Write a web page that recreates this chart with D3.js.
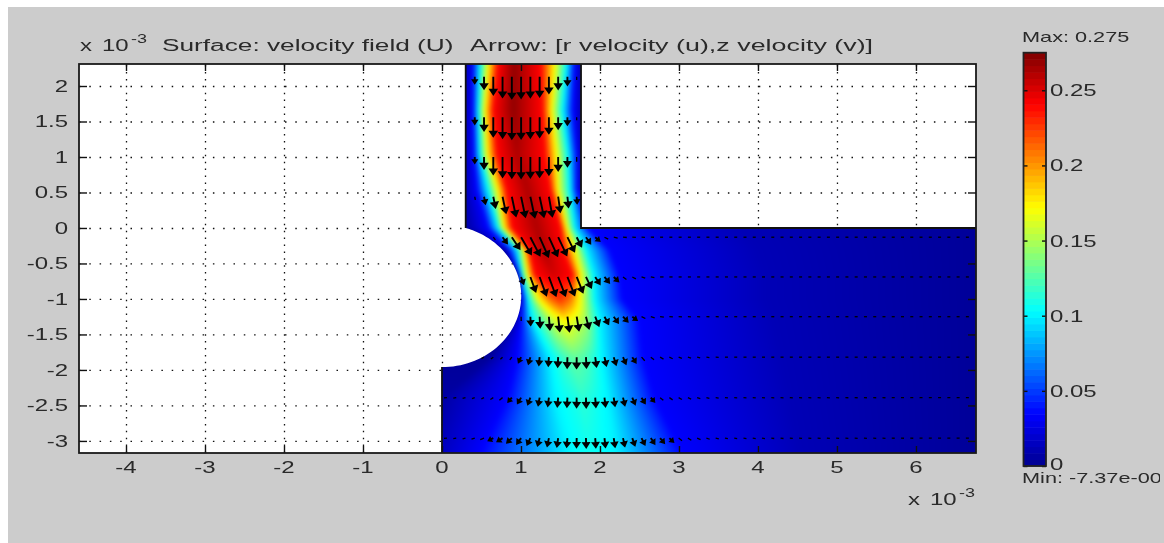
<!DOCTYPE html>
<html lang="en">
<head>
  <meta charset="utf-8" />
  <title>Surface: velocity field (U)</title>
  <style>
    html, body { margin: 0; padding: 0; background: #fff; overflow: hidden; }
    svg { display: block; filter: blur(0.45px); }
    text { font-family: "Liberation Sans", Arial, sans-serif; fill: #2a2a2a; }
  </style>
</head>
<body>
<div id="chart"></div>

<script src="https://d3js.org/d3.v7.min.js"></script>
<script>
  // all lengths in units of 1e-3, as on the axes
  const xTicks = [-4, -3, -2, -1, 0, 1, 2, 3, 4, 5, 6];
  const yTicks = [2, 1.5, 1, 0.5, 0, -0.5, -1, -1.5, -2, -2.5, -3];
  const barTicks = [0, 0.05, 0.1, 0.15, 0.2, 0.25];

  const titleSurface = "Surface: velocity field (U)";
  const titleArrow = "Arrow: [r velocity (u),z velocity (v)]";
  const maxText = "Max: 0.275";
  const minText = "Min: -7.37e-005";
  const uMax = 0.275;

  // speed profiles, one row per height
  const rowY = [2.31, 1.66, 1.03, 0.54, 0, -0.31, -0.66, -1.01, -1.3, -1.82, -2.4, -3.17];
  const rowX = [
    [0.30, 0.39, 0.48, 0.58, 0.71, 0.91, 1.25, 1.43, 1.58, 1.68, 1.76, 1.76],
    [0.30, 0.39, 0.46, 0.54, 0.65, 0.90, 1.27, 1.39, 1.53, 1.66, 1.76, 1.76],
    [0.30, 0.40, 0.48, 0.57, 0.70, 0.95, 1.30, 1.45, 1.60, 1.71, 1.76, 1.76],
    [0.30, 0.44, 0.58, 0.70, 0.82, 1.08, 1.37, 1.47, 1.62, 1.71, 1.76, 1.76],
    [0.28, 0.58, 0.71, 0.78, 0.89, 1.20, 1.50, 1.58, 1.68, 1.85, 3.80, 6.76],
    [0.80, 0.84, 0.96, 1.03, 1.11, 1.28, 1.53, 1.68, 1.83, 2.13, 4.00, 6.76],
    [0.96, 0.98, 1.01, 1.08, 1.18, 1.41, 1.65, 1.76, 1.92, 2.25, 4.10, 6.76],
    [0.98, 1.02, 1.09, 1.22, 1.37, 1.49, 1.62, 1.75, 1.94, 2.29, 4.10, 6.76],
    [0.92, 1.00, 1.14, 1.42, 1.48, 1.55, 1.65, 1.80, 2.00, 2.50, 4.20, 6.76],
    [0.60, 0.95, 1.37, 1.50, 1.60, 1.68, 1.80, 1.90, 2.03, 2.55, 4.30, 6.76],
    [0.00, 0.82, 1.43, 1.55, 1.70, 1.78, 1.90, 2.00, 2.10, 2.70, 4.40, 6.76],
    [0.00, 0.48, 1.60, 1.70, 1.80, 1.85, 1.95, 2.05, 2.20, 3.05, 4.53, 6.76]
  ];
  const rowU = [
    [0.012, 0.034, 0.10, 0.17, 0.24, 0.270, 0.24, 0.17, 0.10, 0.034, 0.012, 0.012],
    [0.012, 0.034, 0.10, 0.17, 0.24, 0.270, 0.24, 0.17, 0.10, 0.034, 0.012, 0.012],
    [0.012, 0.034, 0.10, 0.17, 0.24, 0.262, 0.24, 0.17, 0.10, 0.034, 0.012, 0.012],
    [0.012, 0.034, 0.10, 0.17, 0.24, 0.262, 0.24, 0.17, 0.10, 0.034, 0.012, 0.012],
    [0.004, 0.034, 0.10, 0.17, 0.24, 0.262, 0.24, 0.17, 0.10, 0.034, 0.012, 0.003],
    [0.004, 0.034, 0.10, 0.17, 0.24, 0.262, 0.24, 0.17, 0.10, 0.034, 0.012, 0.003],
    [0.004, 0.034, 0.10, 0.17, 0.24, 0.252, 0.24, 0.17, 0.10, 0.034, 0.012, 0.003],
    [0.004, 0.034, 0.10, 0.17, 0.21, 0.228, 0.21, 0.17, 0.10, 0.034, 0.012, 0.003],
    [0.004, 0.034, 0.10, 0.16, 0.165, 0.175, 0.165, 0.15, 0.10, 0.034, 0.012, 0.003],
    [0.003, 0.034, 0.10, 0.115, 0.125, 0.13, 0.125, 0.115, 0.10, 0.034, 0.012, 0.003],
    [0.006, 0.034, 0.10, 0.105, 0.11, 0.115, 0.11, 0.105, 0.10, 0.034, 0.012, 0.003],
    [0.015, 0.034, 0.10, 0.103, 0.105, 0.106, 0.105, 0.103, 0.10, 0.034, 0.012, 0.003]
  ];

  // arrow rows and the tilt read from each of them, degrees from straight down
  const arrowRowY = [2.13, 1.56, 1.0, 0.44, -0.13, -0.69, -1.25, -1.82, -2.39, -2.96];
  const arrowColStart = 0.063;
  const arrowColStep = 0.1173;
  const arrowColCount = 57;
  const tiltX = [0.06, 0.73, 1.24, 1.75, 2.25, 2.76, 3.52, 6.76];
  const rowTilt = [
    [0, 0, 0, 0, 0, 0, 0, 0],
    [0, 0, 0, 0, 0, 0, 0, 0],
    [0, 0, 0, 0, 0, 0, 0, 0],
    [8, 12, 12, 3, 0, 0, 0, 0],
    [40, 38, 24, 27, 85, 90, 90, 90],
    [20, 20, 20, 22, 50, 90, 90, 90],
    [0, 0, 3, 10, 40, 85, 90, 90],
    [-85, -50, -5, 0, 20, 60, 90, 90],
    [-85, -55, -10, 0, 10, 50, 85, 90],
    [-85, -60, -15, 0, 10, 40, 80, 90]
  ];

  // walls of the flow domain
  const channelLeft = 0.30;
  const channelRight = 1.76;
  const cylinderY = -0.957;
  const cylinderR = 1.003;
  const yFloor = -1.96;

  const xScale = d3.scaleLinear().domain([-4.595, 6.76]).range([79, 976]);
  const yScale = d3.scaleLinear().domain([2.31, -3.17]).range([64, 453]);
  const barScale = d3.scaleLinear().domain([0, uMax]).range([466, 52.7]);
  const jet = d3.scaleLinear()
    .domain([0, 0.125, 0.375, 0.625, 0.875, 1].map(d => d * uMax))
    .range(["#00008f", "#0000ff", "#00ffff", "#ffff00", "#ff0000", "#7f0000"])
    .clamp(true);

  const [x0, x1] = xScale.range();
  const [y0, y1] = yScale.range();
  const xTop = xScale.domain()[1], yTop = yScale.domain()[0], yEnd = yScale.domain()[1];

  function lerp(a, b, t) { return a + (b - a) * t; }

  function profile(xs, vs, x) {
    if (x <= xs[0]) return vs[0];
    for (let j = 1; j < xs.length; j++) {
      if (x <= xs[j]) {
        const w = xs[j] - xs[j - 1];
        return w > 0 ? lerp(vs[j - 1], vs[j], (x - xs[j - 1]) / w) : vs[j];
      }
    }
    return vs[vs.length - 1];
  }

  function speedAt(x, y) {
    let i = 0;
    while (i < rowY.length - 2 && y < rowY[i + 1]) i++;
    const t = Math.max(0, Math.min(1, (rowY[i] - y) / (rowY[i] - rowY[i + 1])));
    const xs = rowX[i].map((v, k) => lerp(v, rowX[i + 1][k], t));
    const us = rowU[i].map((v, k) => lerp(v, rowU[i + 1][k], t));
    return profile(xs, us, x);
  }

  function inDomain(x, y) {
    if (y > 0) return x > channelLeft && x < channelRight;
    if (x <= 0 || x > xTop) return false;
    return Math.hypot(x, y - cylinderY) > cylinderR;
  }

  const svg = d3.select("#chart").append("svg").attr("width", 1164).attr("height", 543);

  svg.append("rect").attr("x", 8).attr("y", 7).attr("width", 1156).attr("height", 536).attr("fill", "#cccccc");
  svg.append("rect").attr("x", x0).attr("y", y0).attr("width", x1 - x0).attr("height", y1 - y0).attr("fill", "#fff");

  // stretched text, the source picture is wider than tall
  function label(x, y, str, anchor, size, stretch) {
    return svg.append("text")
      .attr("transform", `translate(${x},${y}) scale(${stretch || 1.5},1)`)
      .attr("text-anchor", anchor || "start")
      .attr("font-size", size || 16)
      .text(str);
  }

  // dotted grid
  svg.append("g").attr("transform", `translate(0,${y1})`)
    .call(d3.axisBottom(xScale).tickValues(xTicks).tickSize(-(y1 - y0)).tickFormat(""))
    .call(g => g.select(".domain").remove())
    .selectAll("line").attr("stroke", "#111").attr("stroke-width", 1.3).attr("stroke-dasharray", "1.5 5.4");
  svg.append("g").attr("transform", `translate(${x0},0)`)
    .call(d3.axisLeft(yScale).tickValues(yTicks).tickSize(-(x1 - x0)).tickFormat(""))
    .call(g => g.select(".domain").remove())
    .selectAll("line").attr("stroke", "#111").attr("stroke-width", 1.3).attr("stroke-dasharray", "1.5 8.8");

  // domain outline built in axis units
  const arcPts = d3.range(0, 61).map(i => {
    const a0 = Math.atan2(-cylinderY, channelLeft);
    const a1 = Math.atan2(yFloor - cylinderY, 0);
    const a = lerp(a0, a1, i / 60);
    return [cylinderR * Math.cos(a), cylinderY + cylinderR * Math.sin(a)];
  });
  const toPx = d3.line().x(d => xScale(d[0])).y(d => yScale(d[1]));
  const domainPts = [[channelLeft, yTop], [channelLeft, 0], ...arcPts, [0, yFloor], [0, yEnd], [xTop, yEnd], [xTop, 0], [channelRight, 0], [channelRight, yTop]];

  svg.append("clipPath").attr("id", "domain").append("path").attr("d", toPx(domainPts) + "Z");

  // surface raster, a margin keeps the soft edge outside the clip
  const pad = 10;
  const imgX = Math.floor(xScale(0)) - pad, imgY = y0 - pad;
  const imgW = Math.ceil(x1 - imgX) + pad, imgH = Math.ceil(y1 - y0) + 2 * pad;
  const raw = document.createElement("canvas");
  raw.width = imgW;
  raw.height = imgH;
  const rawCtx = raw.getContext("2d");
  const img = rawCtx.createImageData(imgW, imgH);
  for (let j = 0; j < imgH; j++) {
    for (let i = 0; i < imgW; i++) {
      const c = d3.rgb(jet(speedAt(xScale.invert(imgX + i + 0.5), yScale.invert(imgY + j + 0.5))));
      const p = (j * imgW + i) * 4;
      img.data[p] = c.r; img.data[p + 1] = c.g; img.data[p + 2] = c.b; img.data[p + 3] = 255;
    }
  }
  rawCtx.putImageData(img, 0, 0);
  const canvas = document.createElement("canvas");
  canvas.width = imgW;
  canvas.height = imgH;
  const ctx = canvas.getContext("2d");
  ctx.filter = "blur(2px)";
  ctx.drawImage(raw, 0, 0);
  svg.append("image").attr("x", imgX).attr("y", imgY).attr("width", imgW).attr("height", imgH)
    .attr("href", canvas.toDataURL("image/png")).attr("clip-path", "url(#domain)");

  // arrows, length follows the surface speed, slow ones are only dashes
  const arrowData = [];
  arrowRowY.forEach((y, r) => {
    d3.range(arrowColCount).forEach(k => {
      const x = arrowColStart + k * arrowColStep;
      if (inDomain(x, y)) arrowData.push({ x, y, u: speedAt(x, y), tilt: profile(tiltX, rowTilt[r], x) });
    });
  });
  const arrowLen = d3.scaleLinear().domain([0, 0.025, 0.045, 0.1, uMax]).range([3, 3, 6, 8.5, 22]);
  const hasHead = d => arrowLen(d.u) > 5;
  function arrowPath(d) {
    const len = arrowLen(d.u);
    const a = d.tilt * Math.PI / 180;
    const sx = xScale(d.x), sy = yScale(d.y);
    const ux = Math.sin(a), uy = Math.cos(a);
    const tx = sx + ux * len, ty = sy + uy * len;
    const p = d3.path();
    p.moveTo(sx, sy);
    p.lineTo(tx, ty);
    if (hasHead(d)) {
      const h = Math.min(4.5, len * 0.45), w = Math.min(3, len * 0.3);
      p.moveTo(tx, ty);
      p.lineTo(tx - ux * h - uy * w, ty - uy * h + ux * w);
      p.lineTo(tx - ux * h + uy * w, ty - uy * h - ux * w);
      p.closePath();
    }
    return p.toString();
  }
  svg.append("g").selectAll("path").data(arrowData).join("path")
    .attr("d", arrowPath)
    .attr("fill", "#000").attr("stroke", "#000")
    .attr("stroke-width", d => hasHead(d) ? 1.9 : 1.3);

  // walls, the cylinder itself has no line
  const wallPaths = [
    [[channelLeft, yTop], [channelLeft, 0]],
    [[channelRight, yTop], [channelRight, 0], [xTop, 0]],
    [[0, yFloor], [0, yEnd]]
  ];
  svg.append("g").selectAll("path").data(wallPaths).join("path")
    .attr("d", toPx).attr("fill", "none").attr("stroke", "#111").attr("stroke-width", 1.8);

  // inward ticks on all four sides
  function ticks(axis, tx, ty) {
    svg.append("g").attr("transform", `translate(${tx},${ty})`)
      .call(axis)
      .call(g => g.select(".domain").remove())
      .selectAll("line").attr("stroke", "#111").attr("stroke-width", 1.4);
  }
  ticks(d3.axisBottom(xScale).tickValues(xTicks).tickSize(-7).tickFormat(""), 0, y1);
  ticks(d3.axisTop(xScale).tickValues(xTicks).tickSize(-7).tickFormat(""), 0, y0);
  ticks(d3.axisLeft(yScale).tickValues(yTicks).tickSize(-8).tickFormat(""), x0, 0);
  ticks(d3.axisRight(yScale).tickValues(yTicks).tickSize(-8).tickFormat(""), x1, 0);

  svg.append("rect").attr("x", x0).attr("y", y0).attr("width", x1 - x0).attr("height", y1 - y0)
    .attr("fill", "none").attr("stroke", "#1a1a1a").attr("stroke-width", 1.8);

  xTicks.forEach(d => label(xScale(d), 473, String(d), "middle"));
  yTicks.forEach(d => label(68, yScale(d) + 6, String(d), "end"));

  // exponent notes and title
  function exponent(x, y) {
    label(x, y, "x", "start", 16);
    label(x + 22, y, "10", "start", 16);
    label(x + 51, y - 8, "-3", "start", 12);
  }
  exponent(80, 51);
  exponent(908, 505);
  label(162, 51, titleSurface, "start", 16, 1.64);
  label(470, 51, titleArrow, "start", 16, 1.68);

  // colour bar with 64 bands like the source colormap
  const bandStep = uMax / 64;
  const barX = 1023.5, barW = 22.5;
  svg.append("g").selectAll("rect").data(d3.range(64)).join("rect")
    .attr("x", barX).attr("width", barW)
    .attr("y", d => barScale((d + 1) * bandStep))
    .attr("height", d => barScale(d * bandStep) - barScale((d + 1) * bandStep) + 0.5)
    .attr("fill", d => jet((d + 0.5) * bandStep));
  ticks(d3.axisLeft(barScale).tickValues(barTicks).tickSize(-4).tickFormat(""), barX, 0);
  ticks(d3.axisRight(barScale).tickValues(barTicks).tickSize(-4).tickFormat(""), barX + barW, 0);
  svg.append("rect").attr("x", barX).attr("y", barScale(uMax)).attr("width", barW)
    .attr("height", barScale(0) - barScale(uMax))
    .attr("fill", "none").attr("stroke", "#222").attr("stroke-width", 1.8);

  barTicks.forEach(d => label(1050, barScale(d) + (d === 0 ? 4 : 6), String(d), "start"));
  label(1022, 42, maxText, "start", 14, 1.55);

  svg.append("clipPath").attr("id", "edge").append("rect")
    .attr("x", 0).attr("y", 0).attr("width", 1160).attr("height", 543);
  svg.append("g").attr("clip-path", "url(#edge)").append(() => label(1022, 483, minText, "start", 14, 1.55).node());
</script>
</body>
</html>
